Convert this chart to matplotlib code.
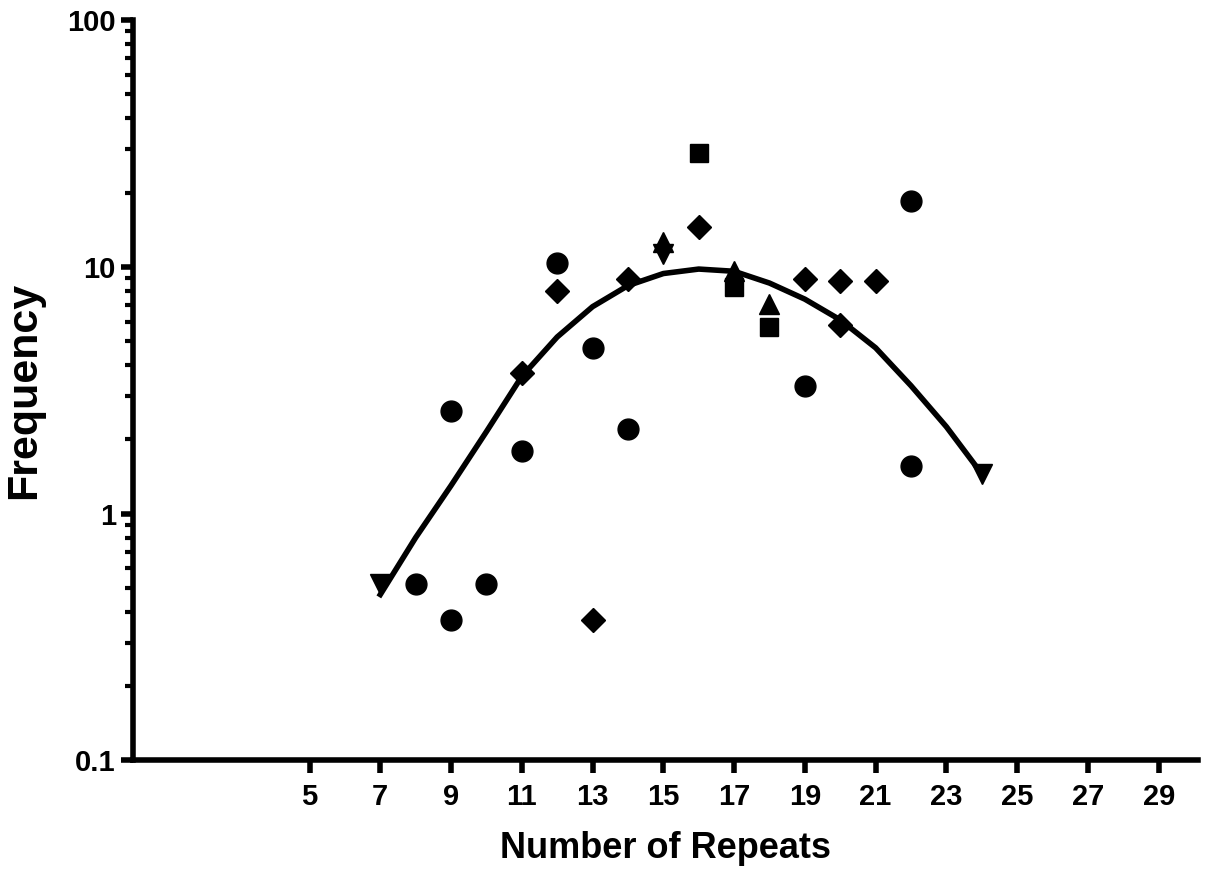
import matplotlib
matplotlib.use("Agg")
import matplotlib.pyplot as plt
from matplotlib.ticker import FixedLocator, FixedFormatter, LogLocator, NullFormatter

plt.rcParams['font.family'] = ['Liberation Sans', 'DejaVu Sans']

# observed frequencies, grouped by marker shape
circ_x = [8, 9, 9, 10, 11, 12, 13, 14, 19, 22, 22]
circ_y = [0.52, 0.37, 2.6, 0.52, 1.8, 10.4, 4.7, 2.2, 3.3, 18.5, 1.56]

diam_x = [11, 12, 13, 14, 16, 19, 20, 20, 21]
diam_y = [3.7, 8.0, 0.37, 8.9, 14.5, 8.9, 8.8, 5.8, 8.8]

sq_x = [16, 17, 18]
sq_y = [29, 8.3, 5.7]

up_x = [15, 17, 18]
up_y = [12.6, 9.6, 7.1]

down_x = [7, 15, 24]
down_y = [0.52, 11.3, 1.45]

# fitted curve
fit_x = [7, 8, 9, 10, 11, 12, 13, 14, 15, 16, 17, 18, 19, 20, 21, 22, 23, 24]
fit_y = [0.47, 0.80, 1.3, 2.15, 3.6, 5.2, 6.9, 8.4, 9.4, 9.8, 9.6, 8.6,
         7.4, 6.1, 4.7, 3.3, 2.25, 1.45]

x_ticks = [5, 7, 9, 11, 13, 15, 17, 19, 21, 23, 25, 27, 29]
y_ticks = [0.1, 1, 10, 100]
y_labels = ["0.1", "1", "10", "100"]

fig = plt.figure(figsize=(12.06, 8.77), dpi=100)
ax = fig.add_axes([0.110, 0.133, 0.883, 0.844])

ax.plot(fit_x, fit_y, color="black", lw=4, zorder=2)
ax.plot(circ_x, circ_y, "o", color="black", ms=15, zorder=3)
ax.plot(diam_x, diam_y, "D", color="black", ms=12, zorder=3)
ax.plot(sq_x, sq_y, "s", color="black", ms=13, zorder=3)
ax.plot(up_x, up_y, "^", color="black", ms=15, zorder=3)
ax.plot(down_x, down_y, "v", color="black", ms=15, zorder=3)

ax.set_yscale("log")
ax.set_ylim(0.1, 100)
ax.set_xlim(0, 30.1)

ax.yaxis.set_major_locator(FixedLocator(y_ticks))
ax.yaxis.set_major_formatter(FixedFormatter(y_labels))
ax.yaxis.set_minor_locator(LogLocator(base=10, subs=range(2, 10)))
ax.yaxis.set_minor_formatter(NullFormatter())
ax.xaxis.set_major_locator(FixedLocator(x_ticks))

for s in ["top", "right"]:
    ax.spines[s].set_visible(False)
for s in ["left", "bottom"]:
    ax.spines[s].set_linewidth(4)

ax.tick_params(axis="both", which="major", direction="out", width=4,
               length=9, labelsize=21)
ax.tick_params(axis="x", which="major", pad=7)
ax.tick_params(axis="y", which="major", pad=3)
ax.tick_params(axis="y", which="minor", direction="out", width=3, length=6)
for lab in ax.get_xticklabels() + ax.get_yticklabels():
    lab.set_fontweight("bold")

ax.set_xlabel("Number of Repeats", fontsize=26, fontweight="bold")
ax.xaxis.set_label_coords(0.5, -0.095)
ax.set_ylabel("Frequency", fontsize=31, fontweight="bold")
ax.yaxis.set_label_coords(-0.083, 0.5)

fig.savefig("out.png", dpi=100)
